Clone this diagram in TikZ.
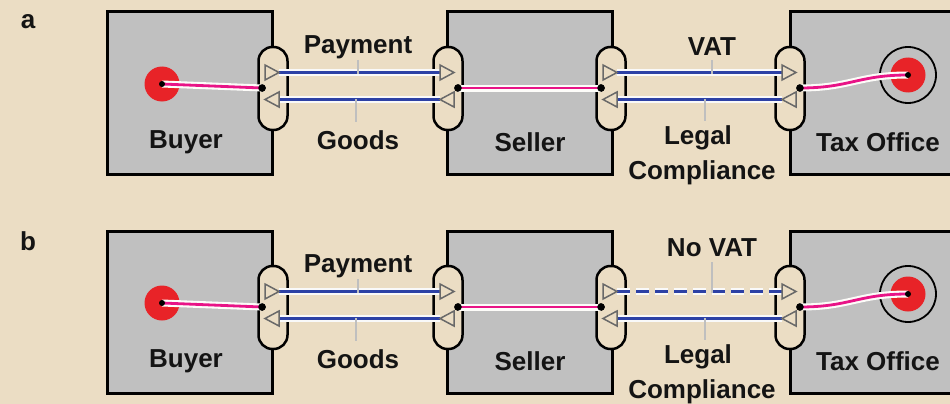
\documentclass[tikz,border=0pt]{standalone}
\usepackage{fontspec}
\setmainfont{Liberation Sans}
\usetikzlibrary{calc}
\definecolor{bg}{RGB}{235,221,196}
\definecolor{boxgray}{RGB}{192,192,192}
\definecolor{flowblue}{RGB}{45,65,165}
\definecolor{linkpink}{RGB}{232,20,135}
\definecolor{nodered}{RGB}{232,35,40}
\definecolor{trigray}{RGB}{105,105,105}
\tikzset{
 unitbox/.style={draw=black, line width=3pt, fill=boxgray, minimum width=165pt, minimum height=162pt, inner sep=0pt},
 port/.style={draw=black, line width=2.5pt, fill=bg, rounded corners=14pt, minimum width=29pt, minimum height=83pt, inner sep=0pt},
 jdot/.style={circle, fill=black, minimum size=7.5pt, inner sep=0pt},
 reddisk/.style={circle, fill=nodered, minimum size=35pt, inner sep=0pt},
 lbl/.style={font=\bfseries\fontsize{26}{30}\selectfont, text=black!92, inner sep=0pt},
 halo/.style={draw=white!95!gray, line width=7pt},
 flow/.style={draw=flowblue, line width=3.5pt},
 pinkhalo/.style={draw=white!90!bg, line width=7pt},
 pinkline/.style={draw=linkpink, line width=2.8pt},
 tickmark/.style={draw=white!75!black, line width=2.2pt},
 tri/.style={draw=trigray, line width=1.5pt},
 pics/trir/.style={code={\draw[tri] (-7,-7.5) -- (7,0) -- (-7,7.5) -- cycle;}},
 pics/tril/.style={code={\draw[tri] (7,-7.5) -- (-7,0) -- (7,7.5) -- cycle;}},
}
% #1 suffix, #2 y offset, #3 style of top right flow, #4 its label, #5 label y, #6 tick top y, #7 panel letter
\newcommand\drawpanel[7]{%
\begin{scope}[yshift=-#2pt]
 \node[lbl] (letter#1) at (28,22) {#7};
 \node[unitbox] (buyer#1) at (189.5,93) {};
 \node[unitbox] (seller#1) at (529.5,93) {};
 \node[unitbox] (tax#1) at (872.5,93) {};
 \node[port] (pB#1) at (273,88.5) {};
 \node[port] (pSL#1) at (448,88.5) {};
 \node[port] (pSR#1) at (611,88.5) {};
 \node[port] (pT#1) at (790,88.5) {};
 % red terminals
 \node[reddisk] (rB#1) at (162,84) {};
 \node[circle, draw=black, line width=1.8pt, minimum size=56pt, inner sep=0pt] (ring#1) at (908,75) {};
 \node[reddisk] (rT#1) at (908,75) {};
 % junction dots
 \node[jdot] (dB#1) at (262,88) {};
 \node[jdot] (dSL#1) at (458,88) {};
 \node[jdot] (dSR#1) at (601,88) {};
 \node[jdot] (dT#1) at (800,88) {};
 % pink links
 \draw[pinkhalo] (rB#1.center) -- (dB#1.center);
 \draw[pinkline] (rB#1.center) -- (dB#1.center);
 \draw[pinkhalo] (dSL#1.center) -- (dSR#1.center);
 \draw[pinkline] (dSL#1.center) -- (dSR#1.center);
 \draw[pinkhalo] (dT#1.center) .. controls (850,88) and (858,75) .. (rT#1.center);
 \draw[pinkline] (dT#1.center) .. controls (850,88) and (858,75) .. (rT#1.center);
 \node[jdot, minimum size=6pt] (cB#1) at (rB#1.center) {};
 \node[jdot, minimum size=6pt] (cT#1) at (rT#1.center) {};
 \node[jdot] at (dB#1) {};
 \node[jdot] at (dSL#1) {};
 \node[jdot] at (dSR#1) {};
 \node[jdot] at (dT#1) {};
 % triangle positions
 \coordinate (tBt#1) at (272,72.5);
 \coordinate (tBb#1) at (272,99.5);
 \coordinate (tSLt#1) at (447,72.5);
 \coordinate (tSLb#1) at (447,99.5);
 \coordinate (tSRt#1) at (610,72.5);
 \coordinate (tSRb#1) at (610,99.5);
 \coordinate (tTt#1) at (789,72.5);
 \coordinate (tTb#1) at (789,99.5);
 % flows
 \draw[halo] ([xshift=7pt]tBt#1) -- ([xshift=-7pt]tSLt#1);
 \draw[flow] ([xshift=7pt]tBt#1) -- ([xshift=-7pt]tSLt#1);
 \draw[halo] ([xshift=-7pt]tSLb#1) -- ([xshift=7pt]tBb#1);
 \draw[flow] ([xshift=-7pt]tSLb#1) -- ([xshift=7pt]tBb#1);
 \draw[halo, #3] ([xshift=7pt]tSRt#1) -- ([xshift=-7pt]tTt#1);
 \draw[flow, #3] ([xshift=7pt]tSRt#1) -- ([xshift=-7pt]tTt#1);
 \draw[halo] ([xshift=-7pt]tTb#1) -- ([xshift=7pt]tSRb#1);
 \draw[flow] ([xshift=-7pt]tTb#1) -- ([xshift=7pt]tSRb#1);
 \pic at (tBt#1) {trir};
 \pic at (tSLt#1) {trir};
 \pic at (tBb#1) {tril};
 \pic at (tSLb#1) {tril};
 \pic at (tSRt#1) {trir};
 \pic at (tTt#1) {trir};
 \pic at (tSRb#1) {tril};
 \pic at (tTb#1) {tril};
 % ticks
 \coordinate (k1#1) at (358,60);
 \coordinate (k2#1) at (358,74);
 \coordinate (k3#1) at (356,99);
 \coordinate (k4#1) at (356,122);
 \coordinate (k5#1) at (712,#6);
 \coordinate (k6#1) at (712,74);
 \coordinate (k7#1) at (705,99);
 \coordinate (k8#1) at (705,121);
 \draw[tickmark] (k1#1) -- (k2#1);
 \draw[tickmark] (k3#1) -- (k4#1);
 \draw[tickmark] (k5#1) -- (k6#1);
 \draw[tickmark] (k7#1) -- (k8#1);
 % labels
 \node[lbl] (tBuyer#1) at (186,142) {Buyer};
 \node[lbl] (tSeller#1) at (530,142) {Seller};
 \node[lbl] (tTax#1) at (878,142) {Tax Office};
 \node[lbl] (tPay#1) at (358,47) {Payment};
 \node[lbl] (tGoods#1) at (358,140) {Goods};
 \node[lbl] (tVat#1) at (712,#5) {#4};
 \node[lbl] (tLegal#1) at (698,138) {Legal};
 \node[lbl] (tComp#1) at (702,173) {Compliance};
\end{scope}}
\begin{document}
\begin{tikzpicture}[x=1pt,y=-1pt]
 \useasboundingbox (0,0) rectangle (950,404);
 \clip (0,0) rectangle (950,404);
 \fill[bg] (0,0) rectangle (950,404);
 \drawpanel{A}{0}{solid}{VAT}{47}{60}{a}
 \drawpanel{B}{219}{dash pattern=on 13pt off 6pt}{No VAT}{29}{43}{b}
\end{tikzpicture}
\end{document}
